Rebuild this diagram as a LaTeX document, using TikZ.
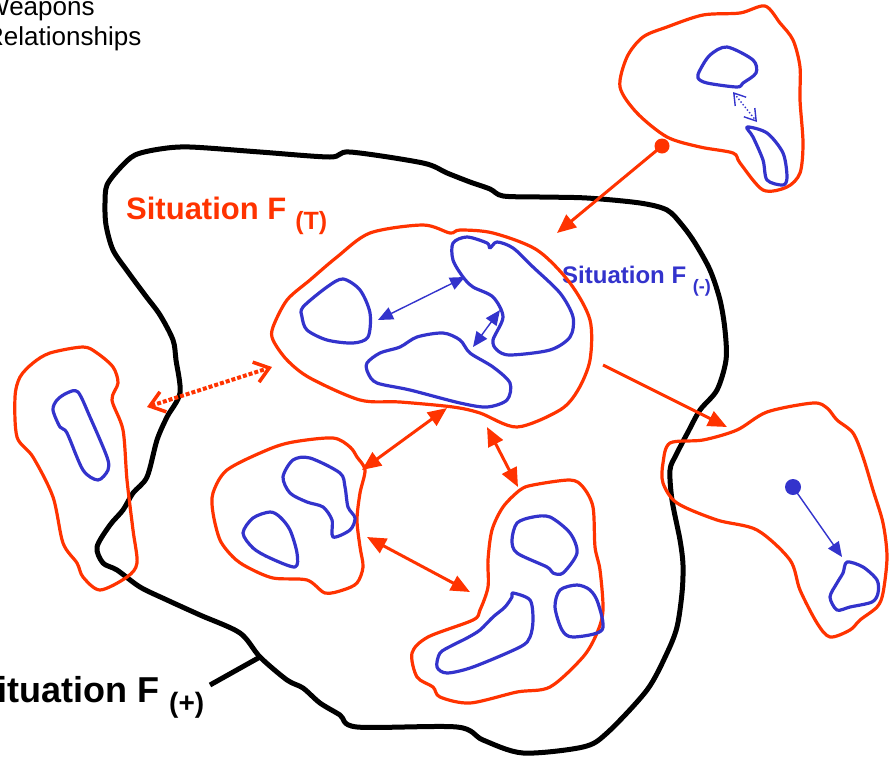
\documentclass[tikz,border=0pt]{standalone}
\usepackage{fontspec}
\setmainfont{Liberation Sans}
\usetikzlibrary{arrows.meta}
\definecolor{sitred}{RGB}{255,51,0}
\definecolor{sitblue}{RGB}{51,51,204}

\begin{document}
\begin{tikzpicture}[x=1pt, y=-1pt,
    bigline/.style={line width=5pt, black, line join=round, line cap=round},
    redloop/.style={line width=3.2pt, sitred, line join=round},
    blueloop/.style={line width=3.2pt, sitblue, line join=round},
    redlink/.style={line width=3pt, sitred},
    bluelink/.style={line width=1.4pt, sitblue},
    redhead/.tip={Triangle[length=19pt, width=16pt]},
    bluehead/.tip={Triangle[length=15pt, width=13pt]},
    redbarb/.tip={Straight Barb[length=14pt, width=21pt, line width=3.5pt]},
    bluebarb/.tip={Straight Barb[length=11pt, width=14pt, line width=1.4pt]}]
    \useasboundingbox (0,0) rectangle (891,761);

    % Labels
    \node [anchor=base west, align=left, inner sep=0, font=\fontsize{26}{30}\selectfont] (lblkey) at (-15,45) {Weapons\\Relationships};
    \node [anchor=base west, inner sep=0, text=sitred, font=\bfseries\fontsize{31}{31}\selectfont] (lblT) at (126,219)
        {Situation F\hspace{9pt}{\fontsize{25}{25}\selectfont\raisebox{-10pt}{(T)}}};
    \node [anchor=base west, inner sep=0, text=sitblue, font=\bfseries\fontsize{24}{24}\selectfont] (lblminus) at (562,283)
        {Situation F {\fontsize{18}{18}\selectfont\raisebox{-9pt}{(-)}}};
    \node [anchor=base west, inner sep=0, font=\bfseries\fontsize{36}{36}\selectfont] (lblplus) at (-27,702)
        {Situation F {\fontsize{28}{28}\selectfont\raisebox{-10pt}{(+)}}};

    % Situation F(+) outline
    \draw [bigline] plot [smooth cycle, tension=0.5] coordinates {
        (105,203) (107,185) (120,168) (135,155) (160,149) (190,147) (260,152) (330,157)
        (350,152) (423,163) (447,173) (470,182) (490,189) (503,196) (540,197) (587,198)
        (640,203) (667,210) (682,225) (695,243) (710,270) (720,300) (725,330) (726,360)
        (717,390) (700,410) (688,432) (676,455) (670,470) (672,500) (680,540) (683,565)
        (682,593) (677,627) (667,653) (647,690) (607,733) (583,747) (523,753) (483,740)
        (457,727) (357,727) (340,715) (320,703) (303,688) (287,680) (260,657) (240,633)
        (200,615) (167,600) (140,587) (117,570) (103,563) (97,547) (110,525) (123,510)
        (133,493) (147,477) (157,440) (167,417) (180,393) (176,360) (173,340) (160,315)
        (145,295) (128,272) (113,250) (106,225)};
    \coordinate (plustick) at (260,657);
    \coordinate (plusend) at (210,685);
    \draw [bigline, line cap=butt] (plusend) -- (plustick);

    % Red situations
    \draw [redloop] plot [smooth cycle, tension=0.5] coordinates {
        (273,327) (287,300) (310,280) (337,257) (370,233) (423,225) (450,233) (460,230)
        (493,233) (537,250) (570,283) (590,320) (590,360) (578,390) (560,410) (517,427)
        (480,413) (453,407) (400,402) (360,400) (310,378) (287,360) (273,340)};
    \draw [redloop] plot [smooth cycle, tension=0.5] coordinates {
        (765,6) (780,23) (793,40) (800,67) (800,100) (803,143) (800,173) (787,187)
        (763,190) (740,163) (733,153) (700,147) (667,137) (637,113) (620,87) (627,57)
        (643,37) (667,27) (703,15) (740,13)};
    \draw [redloop] plot [smooth cycle, tension=0.5] coordinates {
        (50,353) (83,347) (97,353) (113,367) (118,383) (112,400) (123,430) (127,480)
        (133,530) (137,563) (127,577) (100,590) (83,577) (77,563) (63,543) (53,497)
        (33,457) (17,437) (15,397) (20,377) (33,363)};
    \draw [redloop] plot [smooth cycle, tension=0.5] coordinates {
        (213,493) (227,470) (267,450) (293,442) (333,438) (350,447) (357,457) (365,470)
        (360,493) (357,520) (360,547) (363,567) (357,583) (343,590) (325,593) (307,580)
        (273,578) (247,567) (233,557) (220,540) (213,513)};
    \draw [redloop] plot [smooth cycle, tension=0.5] coordinates {
        (520,490) (533,485) (570,480) (583,487) (593,507) (595,547) (600,570) (603,610)
        (597,633) (583,657) (550,687) (517,692) (470,703) (440,697) (433,687) (417,677)
        (412,653) (428,637) (473,620) (480,610) (488,587) (488,560) (492,530) (503,507)};
    \draw [redloop] plot [smooth cycle, tension=0.5] coordinates {
        (670,443) (703,440) (737,430) (767,412) (813,403) (827,408) (837,420) (853,433)
        (863,457) (873,490) (883,523) (887,557) (883,593) (877,607) (860,620) (850,630)
        (830,637) (817,623) (800,590) (790,560) (757,530) (717,520) (677,503) (663,483)
        (663,463)};

    % Blue situations
    \draw [blueloop] plot [smooth cycle, tension=0.5] coordinates {
        (303,307) (327,287) (343,279) (360,290) (370,313) (368,337) (353,343) (327,340)
        (307,330) (302,317)};
    \draw [blueloop] plot [smooth cycle, tension=0.5] coordinates {
        (453,243) (467,237) (487,243) (490,248) (497,242) (513,248) (533,267) (560,293)
        (573,317) (570,337) (550,350) (510,355) (497,350) (493,340) (503,317) (493,297)
        (473,287) (463,277) (453,260)};
    \draw [blueloop] plot [smooth cycle, tension=0.5] coordinates {
        (367,363) (380,353) (400,347) (417,337) (443,333) (460,340) (470,353) (493,367)
        (510,383) (507,400) (487,407) (460,403) (410,390) (377,383) (368,373)};
    \draw [blueloop] plot [smooth cycle, tension=0.5] coordinates {
        (283,477) (293,460) (310,458) (340,473) (345,487) (348,507) (355,518) (350,530)
        (333,537) (332,520) (323,507) (307,502) (290,493)};
    \draw [blueloop] plot [smooth cycle, tension=0.5] coordinates {
        (243,533) (253,518) (270,512) (280,517) (290,530) (297,553) (295,567) (270,558)
        (253,548)};
    \draw [blueloop] plot [smooth cycle, tension=0.5] coordinates {
        (517,523) (533,517) (550,517) (570,533) (577,553) (563,573) (553,573) (547,567)
        (517,553) (512,540)};
    \draw [blueloop] plot [smooth cycle, tension=0.5] coordinates {
        (560,590) (577,585) (590,590) (598,603) (602,630) (573,637) (562,630) (555,607)};
    \draw [blueloop] plot [smooth cycle, tension=0.5] coordinates {
        (513,593) (530,600) (533,620) (530,637) (520,647) (473,667) (447,673) (437,667)
        (440,653) (453,645) (467,638) (480,630) (493,617) (505,607) (512,597)};
    \draw [blueloop] plot [smooth cycle, tension=0.5] coordinates {
        (57,400) (67,393) (78,392) (90,417) (107,457) (108,470) (98,480) (83,470)
        (67,433) (60,427) (53,410)};
    \draw [blueloop] plot [smooth cycle, tension=0.5] coordinates {
        (700,70) (710,55) (727,47) (753,60) (756,73) (743,83) (737,87) (707,83) (698,78)};
    \draw [blueloop] plot [smooth cycle, tension=0.5] coordinates {
        (747,127) (767,133) (783,153) (787,177) (783,185) (767,180) (763,160) (753,137)};
    \draw [blueloop] plot [smooth cycle, tension=0.5] coordinates {
        (847,562) (863,567) (877,580) (878,593) (872,602) (850,607) (837,610) (830,597)
        (837,583) (843,573)};

    % Arrow ends
    \coordinate (rdot) at (662,146);
    \coordinate (rtipT) at (557,233);
    \coordinate (rout) at (603,365);
    \coordinate (rtipR) at (727,427);
    \coordinate (ra1) at (447,408);
    \coordinate (ra2) at (362,470);
    \coordinate (rb1) at (487,427);
    \coordinate (rb2) at (518,487);
    \coordinate (rc1) at (367,537);
    \coordinate (rc2) at (470,592);
    \coordinate (rd1) at (147,407);
    \coordinate (rd2) at (272,367);
    \coordinate (ba1) at (378,320);
    \coordinate (ba2) at (465,277);
    \coordinate (bb1) at (473,347);
    \coordinate (bb2) at (500,310);
    \coordinate (bc1) at (733,92);
    \coordinate (bc2) at (757,122);
    \coordinate (bdot) at (793,487);
    \coordinate (btip) at (842,557);

    % Arrows
    \fill [sitred] (rdot) circle (7.5);
    \draw [redlink, -redhead] (rdot) -- (rtipT);
    \draw [redlink, -redhead] (rout) -- (rtipR);
    \draw [redlink, redhead-redhead] (ra1) -- (ra2);
    \draw [redlink, redhead-redhead] (rb1) -- (rb2);
    \draw [redlink, redhead-redhead] (rc1) -- (rc2);
    \draw [sitred, line width=4pt, dotted, redbarb-redbarb] (rd1) -- (rd2);
    \draw [bluelink, bluehead-bluehead] (ba1) -- (ba2);
    \draw [bluelink, bluehead-bluehead] (bb1) -- (bb2);
    \draw [bluelink, dotted, bluebarb-bluebarb] (bc1) -- (bc2);
    \fill [sitblue] (bdot) circle (8);
    \draw [bluelink, -bluehead] (bdot) -- (btip);
\end{tikzpicture}
\end{document}
